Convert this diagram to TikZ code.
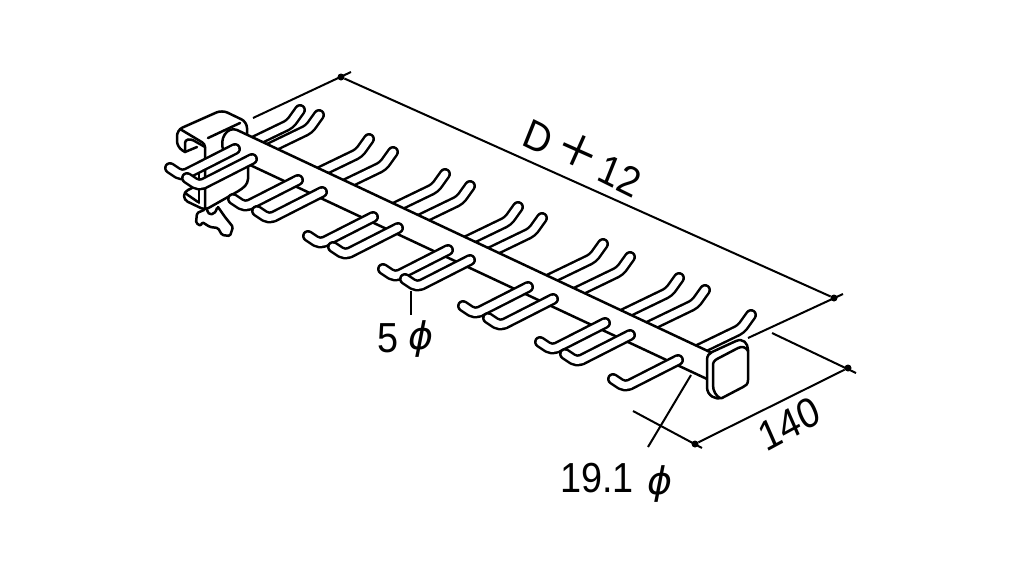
\documentclass[tikz,border=0pt]{standalone}
\usepackage{fontspec}
\setmainfont{Liberation Sans}
\newfontfamily\phifont{DejaVu Sans}[ItalicFont={DejaVu Sans Oblique}]
\newfontfamily\plusfont{Liberation Serif}
\tikzset{
 ln/.style={line width=2.5pt,line join=round,line cap=round},
 dim/.style={line width=2pt},
 dimdot/.style={circle,fill=black,inner sep=0pt,minimum size=7pt},
 lab/.style={font=\fontsize{42}{42}\selectfont,inner sep=0pt,xscale=.9},
}
\newcommand{\capsule}[2]{%
 \draw[line width=12pt,line cap=round,line join=round,rounded corners=#1] #2;
 \draw[line width=7pt,white,line cap=round,line join=round,rounded corners=#1] #2;}
\newcommand{\lowhook}[2]{\capsule{5pt}{(#1,#2) -- ++(-53,27) -- ++(-12,-8)}}
\newcommand{\uphook}[2]{\capsule{4pt}{(#1,#2) -- ++(-10,14) -- ++(-58,28)}}
\begin{document}
\begin{tikzpicture}[x=1pt,y=-1pt]
\useasboundingbox (0,0) rectangle (1024,576);
% upper hooks
\foreach \x/\y in {300/110,319/115,369/139,393/152,445/174,470/186,518/207,542/218,603/244,630/257,679/278,705/290,751/315}{\uphook{\x}{\y}}
% wing nut
\draw[ln,fill=white,rounded corners=1.5pt] (204,210) -- (197,213) -- (196,223) -- (201,226) -- (202,222) -- (210,227) -- (218,228) -- (222,235) -- (230,236) -- (233,227) -- (225,217) -- (218,207);
\draw[ln] (207,210) .. controls (208,216) and (215,216) .. (217,208);
% bracket
\fill[white] (205,147) -- (247,125) -- (247,183) -- (205,208) -- (185,200) -- (185,192) -- (205,180) -- cycle;
\fill[white] (180,131) -- (222,112) -- (247,125) -- (205,147) -- cycle;
\draw[ln,rounded corners=6pt] (185,152) -- (177,147) -- (177,130) -- (222,110) -- (247,122) -- (247,136);
\draw[ln,rounded corners=3pt] (180,129) -- (205,144) -- (205,208);
\draw[ln,rounded corners=3pt] (185,152) -- (185,140) -- (191,139) -- (205,147);
\draw[ln] (185,152) -- (197,147);
\draw[ln] (208,138) -- (240,123);
\draw[ln,rounded corners=4pt] (192,188) -- (184,192) -- (184,200) -- (205,210) -- (242,189) -- (248,183) -- (248,165);
\draw[ln] (185,193) -- (198,202);
\draw[ln] (199,170) -- (199,203);
% bar
\coordinate (bt0) at (237,130); \coordinate (bt1) at (712,353);
\coordinate (bb0) at (250,165); \coordinate (bb1) at (707,379);
\fill[white,rounded corners=6pt] (237,130) -- (222,134) -- (222,150) -- (250,165) -- (707,379) -- (712,353) -- cycle;
\draw[ln] (bt1) -- (bt0) .. controls (228,126) and (218,138) .. (224,152);
\draw[ln] (bb0) -- (bb1);
% lower hooks
\foreach \x/\y in {235/149,252/159,298/180,322/192,373/217,398/228,448/250,470/260,528/287,553/299,605/323,630/335,678/360}{\lowhook{\x}{\y}}
% end cap
\draw[ln,fill=white] (707,360) .. controls (707,356) and (709,353) .. (712,352) -- (736,341) .. controls (743,338) and (748,343) .. (748,350) -- (748,380) .. controls (748,384) and (746,386) .. (743,387) -- (722,398) .. controls (716,400) and (707,396) .. (707,387) -- cycle;
\draw[ln] (720,398) .. controls (716,396) and (713,391) .. (713,385) -- (713,366) .. controls (713,362) and (714,361) .. (717,359) -- (738,348) .. controls (742,346) and (746,347) .. (748,351);
% dimensions
\node[dimdot] (d1) at (341,77) {};
\node[dimdot] (d2) at (834,298) {};
\node[dimdot] (d3) at (695,444) {};
\node[dimdot] (d4) at (848,368) {};
\coordinate (e1) at (253,118); \coordinate (e1b) at (351,72);
\coordinate (e2) at (748,338); \coordinate (e2b) at (843,294);
\coordinate (e3) at (633,411); \coordinate (e3b) at (702,448);
\coordinate (e4) at (772,333); \coordinate (e4b) at (856,373);
\draw[dim] (d1) -- (d2);
\draw[dim] (d3) -- (d4);
\draw[dim] (e1) -- (e1b);
\draw[dim] (e2) -- (e2b);
\draw[dim] (e3) -- (e3b);
\draw[dim] (e4) -- (e4b);
\coordinate (l1a) at (691,375); \coordinate (l1b) at (648,447);
\coordinate (l2a) at (411,291); \coordinate (l2b) at (411,315);
\draw[dim] (l1a) -- (l1b);
\draw[dim] (l2a) -- (l2b);
% labels
\node[lab,rotate=-24] (tD) at (538,137) {D};
\node[inner sep=0pt,rotate=-24,font=\fontsize{68}{68}\selectfont\plusfont] (tp) at (577,154) {+};
\node[lab,rotate=-24] (t12) at (620,176) {12};
\node[lab,rotate=26] (t140) at (789,424) {140};
\node[lab] (t5) at (388,338) {5};
\node[inner sep=0pt,font=\fontsize{38}{38}\selectfont] (p5) at (421,339) {\phifont\itshape ϕ};
\node[lab] (t19) at (597,478) {19.1};
\node[inner sep=0pt,font=\fontsize{38}{38}\selectfont] (p19) at (660,484) {\phifont\itshape ϕ};
\end{tikzpicture}
\end{document}
